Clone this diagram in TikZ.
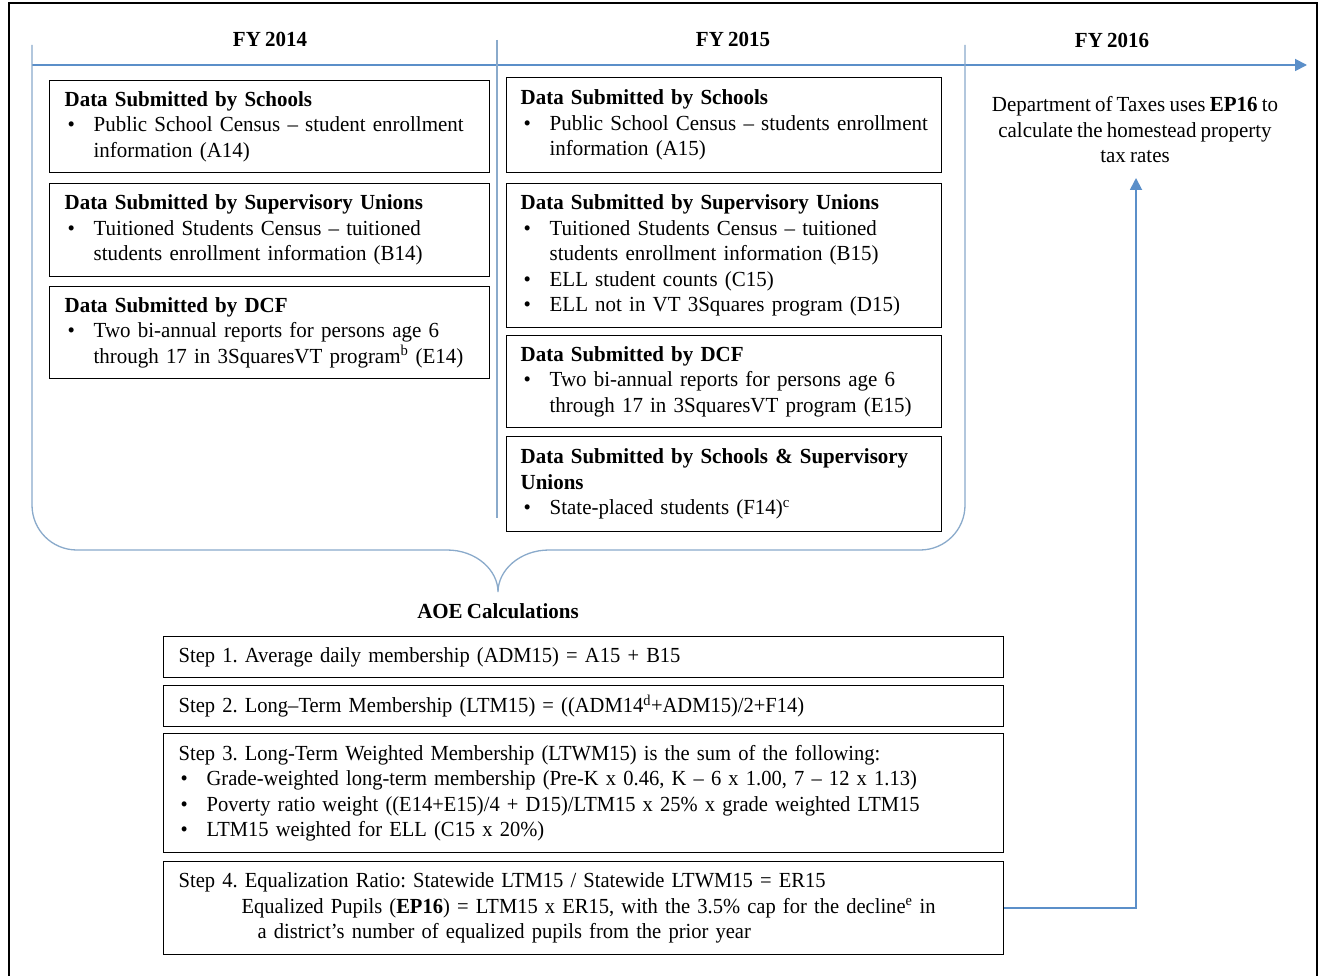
\documentclass[tikz,border=0pt]{standalone}
\usepackage{fontspec}
\setmainfont{Liberation Serif}[FakeStretch=0.975,WordSpace=0.8]
\newfontfamily\stepfont{Liberation Serif}[FakeStretch=0.955,WordSpace=0.8]
\usetikzlibrary{arrows.meta}
\definecolor{tlblue}{HTML}{5B8FC9}
\definecolor{brblue}{HTML}{8AAACB}
\newcommand\bodyfs{\fontsize{21.5}{25.5}\selectfont\frenchspacing}
\newcommand\bl[1]{\mbox{\makebox[29pt][l]{\hspace{3pt}•}#1}}
\newcommand\cl[1]{\mbox{\hspace*{29pt}#1}}
\newcommand\sbl[1]{\mbox{\makebox[28pt][l]{\hspace{2pt}•}#1}}
\newcommand\hd[1]{\mbox{\textbf{#1}}}
\begin{document}
\begin{tikzpicture}[x=1pt,y=-1pt,font=\bodyfs,
  databox/.style={draw=black, line width=1.3pt, rectangle, anchor=north west,
    inner xsep=15pt, inner ysep=0pt, align=left},
  stepbox/.style={databox, text width=810pt, font=\stepfont\bodyfs},
  hdr/.style={font=\bodyfs\bfseries},
  tline/.style={draw=tlblue, line width=1.8pt},
  brline/.style={draw=brblue, line width=1.3pt}]
\useasboundingbox (0,0) rectangle (1322,976);
\fill[white] (0,0) rectangle (1322,976);
\draw[line width=1.6pt] (9,980) -- (9,3) -- (1317,3) -- (1317,980);

% headers
\node[hdr] (fy14) at (270,39) {FY 2014};
\node[hdr] (fy15) at (733,39) {FY 2015};
\node[hdr] (fy16) at (1112,40) {FY 2016};

% timeline
\coordinate (tlS) at (32,65);
\coordinate (tlE) at (1307,65);
\draw[tline,-{Triangle[length=12pt,width=12pt]}] (tlS) -- (tlE);

% column divider
\coordinate (dvT) at (497,40);
\coordinate (dvB) at (497,518);
\draw[brline] (dvT) -- (dvB);

% big brace
\draw[brline] (32,45) -- (32,505) .. controls (32,530) and (52,550) .. (77,550)
  -- (447,550) .. controls (476,550) and (498,570) .. (498,592)
  .. controls (498,570) and (520,550) .. (549,550)
  -- (920,550) .. controls (945,550) and (965,530) .. (965,505) -- (965,45);

% FY 2014 boxes
\node[databox, text width=410pt, minimum height=92pt] (a14) at (49,80)
 {\hd{Data Submitted by Schools}\\
  \bl{Public School Census – student enrollment}\\
  \cl{information (A14)}};
\node[databox, text width=410pt, minimum height=93pt] (b14) at (49,183)
 {\hd{Data Submitted by Supervisory Unions}\\
  \bl{Tuitioned Students Census – tuitioned}\\
  \cl{students enrollment information (B14)}};
\node[databox, text width=410pt, minimum height=92pt] (e14) at (49,286)
 {\hd{Data Submitted by DCF}\\
  \bl{Two bi-annual reports for persons age 6}\\
  \cl{through 17 in 3SquaresVT program\textsuperscript{b} (E14)}};

% FY 2015 boxes
\node[databox, inner xsep=14pt, text width=407pt, minimum height=95pt] (a15) at (506,77)
 {\hd{Data Submitted by Schools}\\
  \bl{Public School Census – students enrollment}\\
  \cl{information (A15)}};
\node[databox, inner xsep=14pt, text width=407pt, minimum height=144pt] (b15) at (506,183)
 {\hd{Data Submitted by Supervisory Unions}\\
  \bl{Tuitioned Students Census – tuitioned}\\
  \cl{students enrollment information (B15)}\\
  \bl{ELL student counts (C15)}\\
  \bl{ELL not in VT 3Squares program (D15)}};
\node[databox, inner xsep=14pt, text width=407pt, minimum height=92pt] (e15) at (506,335)
 {\hd{Data Submitted by DCF}\\
  \bl{Two bi-annual reports for persons age 6}\\
  \cl{through 17 in 3SquaresVT program (E15)}};
\node[databox, inner xsep=14pt, text width=407pt, minimum height=95pt] (f14) at (506,436)
 {\hd{Data Submitted by Schools \& Supervisory}\\
  \hd{Unions}\\
  \bl{State-placed students (F14)\textsuperscript{c}}};

% FY 2016 text
\node[align=center] (tax) at (1135,130)
 {Department of Taxes uses \textbf{EP16} to\\calculate the homestead property\\tax rates};

% AOE
\node[hdr, anchor=base] (aoe) at (498,618) {AOE Calculations};

% step boxes
\node[stepbox, minimum height=41pt] (s1) at (163,636)
 {\mbox{Step 1. Average  daily membership (ADM15) =  A15 + B15}};
\node[stepbox, minimum height=41pt] (s2) at (163,685)
 {\mbox{Step 2. Long–Term Membership (LTM15) = ((ADM14\textsuperscript{d}+ADM15)/2+F14)}};
\node[stepbox, minimum height=119pt] (s3) at (163,733)
 {\mbox{Step 3. Long-Term Weighted Membership (LTWM15) is the sum of the following:}\\
  \sbl{Grade-weighted long-term membership (Pre-K x 0.46, K – 6 x 1.00, 7 – 12 x 1.13)}\\
  \sbl{Poverty ratio weight ((E14+E15)/4 + D15)/LTM15 x 25\% x grade weighted  LTM15}\\
  \sbl{LTM15 weighted for ELL (C15 x 20\%)}};
\node[stepbox, minimum height=93pt] (s4) at (163,861)
 {\mbox{Step 4. Equalization Ratio: Statewide LTM15 / Statewide LTWM15 = ER15}\\
  \mbox{\hspace*{63pt}Equalized Pupils (\textbf{EP16}) = LTM15 x ER15, with the 3.5\% cap for the decline\textsuperscript{e} in}\\
  \mbox{\hspace*{79pt}a district’s number of equalized pupils from the prior year}};

% arrow to FY 2016
\coordinate (upTip) at (1136,178);
\draw[tline,-{Triangle[length=12pt,width=12pt]}] (s4.east) -| (upTip);
\end{tikzpicture}
\end{document}
